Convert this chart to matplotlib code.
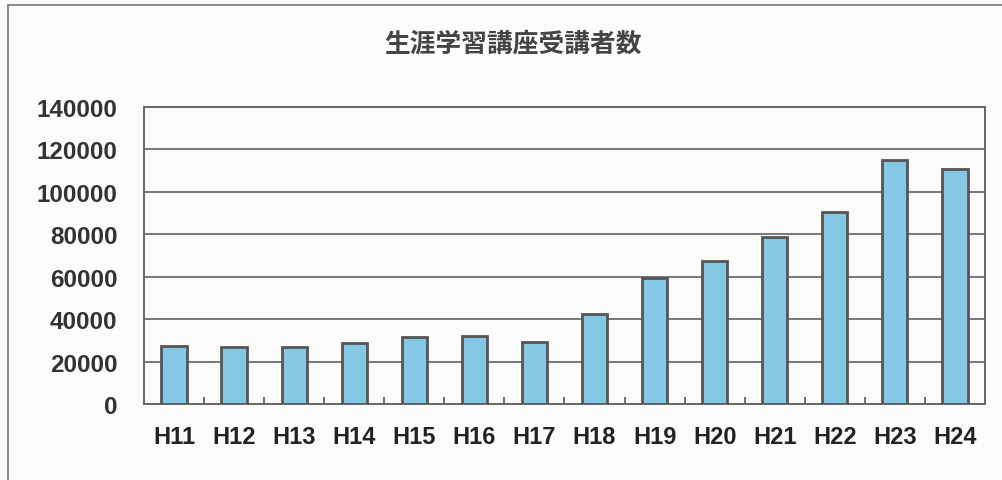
"""Bar chart of lifelong-learning course attendance, H11 to H24."""
import matplotlib
matplotlib.use('Agg')
import matplotlib.pyplot as plt
from matplotlib.patches import Rectangle

years = ['H11', 'H12', 'H13', 'H14', 'H15', 'H16', 'H17',
         'H18', 'H19', 'H20', 'H21', 'H22', 'H23', 'H24']
attendees = [27500, 27000, 27000, 28800, 31500, 32200, 29100,
             42400, 59600, 67600, 78900, 90400, 114800, 110900]
yticks = [0, 20000, 40000, 60000, 80000, 100000, 120000, 140000]
title = '生涯学習講座受講者数'

plt.rcParams['font.family'] = ['Liberation Sans', 'Noto Sans CJK JP', 'DejaVu Sans']

fig = plt.figure(figsize=(10.02, 4.81), dpi=100, facecolor='#fbfbf9')
ax = fig.add_axes([0.1437, 0.158, 0.8393, 0.6175])
ax.set_facecolor('#fbfbf9')

# outer chart border (runs off the right and bottom of the scan)
fig.patches.append(Rectangle((8 / 1002, -0.05), 1.1, 1 - 6 / 481 + 0.05,
                             transform=fig.transFigure, fill=False,
                             edgecolor='#777777', linewidth=1.2))

x = range(len(years))
ax.bar(x, attendees, width=0.42, color='#84c8e6', edgecolor='#555555',
       linewidth=2.0, zorder=3)

ax.set_xlim(-0.5, len(years) - 0.5)
ax.set_ylim(0, 140000)
ax.set_yticks(yticks)
ax.set_yticklabels([str(v) for v in yticks], fontsize=17.5,
                   fontweight='bold', color='#333333')
ax.yaxis.grid(True, color='#555555', linewidth=1.1, zorder=0)
ax.tick_params(axis='y', length=0, pad=19)

ax.set_xticks([i + 0.5 for i in range(len(years) - 1)])
ax.set_xticklabels([])
ax.set_xticks(list(x), minor=True)
ax.set_xticklabels(years, minor=True, fontsize=17, fontweight='bold',
                   color='#222222')
ax.tick_params(axis='x', which='major', direction='in', length=5,
               color='#555555', width=1.2)
ax.tick_params(axis='x', which='minor', length=0, pad=15)

for s in ax.spines.values():
    s.set_color('#666666')
    s.set_linewidth(1.4)

fig.text(0.512, 1 - 44 / 481, title, ha='center', va='center',
         fontsize=18.5, fontweight='bold', color='#444444',
         family=['Noto Sans CJK JP', 'DejaVu Sans'])

fig.savefig('out.png', dpi=100, facecolor=fig.get_facecolor())
